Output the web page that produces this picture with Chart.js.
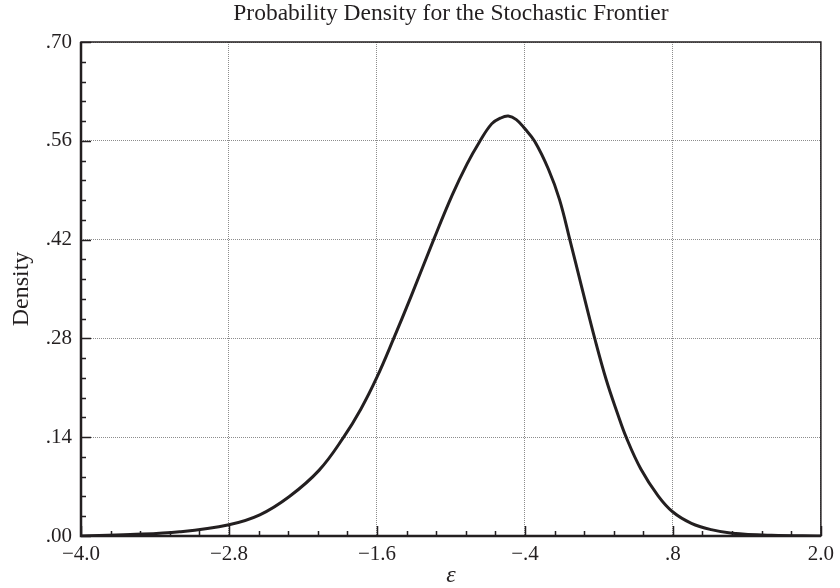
<!DOCTYPE html>
<html lang="en">
<head>
    <meta charset="UTF-8">
    <title>Probability Density for the Stochastic Frontier</title>
    <script src="https://cdn.jsdelivr.net/npm/chart.js"></script>
    <style>
        html, body { margin: 0; padding: 0; background: #fff; }
        #wrap { width: 840px; height: 588px; }
    </style>
</head>
<body>
    <div id="wrap"><canvas id="densityChart" width="840" height="588"></canvas></div>

    <script>
        // values
        const epsValues = [-4.0, -3.6, -3.2, -2.8, -2.55, -2.31, -2.07, -1.87, -1.73, -1.6,
                           -1.464, -1.32, -1.14, -0.99, -0.87, -0.77, -0.67, -0.6, -0.535, -0.47,
                           -0.40, -0.32, -0.21, -0.12, -0.036, 0.06, 0.166, 0.26, 0.35, 0.421,
                           0.54, 0.68, 0.80, 0.95, 1.11, 1.28, 1.6, 2.0];
        const densityValues = [0.000, 0.002, 0.006, 0.016, 0.030, 0.056, 0.093, 0.140, 0.180, 0.225,
                               0.280, 0.341, 0.420, 0.483, 0.527, 0.558, 0.584, 0.592, 0.595, 0.590,
                               0.577, 0.559, 0.520, 0.477, 0.420, 0.353, 0.280, 0.221, 0.174, 0.140,
                               0.095, 0.057, 0.034, 0.018, 0.009, 0.004, 0.001, 0.000];

        const xTickValues = [-4.0, -2.8, -1.6, -0.4, 0.8, 2.0];
        const xTickLabels = ['\u22124.0', '\u22122.8', '\u22121.6', '\u2212.4', '.8', '2.0'];
        const yTickValues = [0, 0.14, 0.28, 0.42, 0.56, 0.70];
        const yTickLabels = ['.00', '.14', '.28', '.42', '.56', '.70'];
        const xMinorStep = 0.24;
        const yMinorStep = 0.028;

        const ink = '#231f20';
        const serif = "'Liberation Serif', 'Times New Roman', serif";

        // frame + inward tick marks (major and minor)
        const frameTicks = {
            id: 'frameTicks',
            afterDatasetsDraw(chart) {
                const { ctx, chartArea: a, scales: { x, y } } = chart;
                ctx.save();
                ctx.strokeStyle = ink;
                ctx.lineWidth = 1.5;
                ctx.beginPath();
                for (let v = -4.0; v <= 2.0001; v += xMinorStep) {
                    const px = Math.round(x.getPixelForValue(v)) + 0.5;
                    const major = xTickValues.some(t => Math.abs(t - v) < 1e-6);
                    ctx.moveTo(px, a.bottom);
                    ctx.lineTo(px, a.bottom - (major ? 10 : 5));
                }
                for (let v = 0; v <= 0.7001; v += yMinorStep) {
                    const py = Math.round(y.getPixelForValue(v)) + 0.5;
                    const major = yTickValues.some(t => Math.abs(t - v) < 1e-6);
                    ctx.moveTo(a.left, py);
                    ctx.lineTo(a.left + (major ? 10 : 5), py);
                }
                ctx.stroke();

                ctx.lineWidth = 1.5;
                ctx.strokeRect(a.left, a.top, a.right - a.left, a.bottom - a.top);
                ctx.lineWidth = 2.5;
                ctx.beginPath();
                ctx.moveTo(a.left, a.top);
                ctx.lineTo(a.left, a.bottom);
                ctx.lineTo(a.right, a.bottom);
                ctx.stroke();
                ctx.restore();
            }
        };

        const ctx = document.getElementById('densityChart').getContext('2d');
        new Chart(ctx, {
            type: 'line',
            data: {
                datasets: [{
                    data: epsValues.map((e, i) => ({ x: e, y: densityValues[i] })),
                    borderColor: ink,
                    borderWidth: 3,
                    pointRadius: 0,
                    fill: false,
                    tension: 0.4
                }]
            },
            options: {
                responsive: false,
                animation: false,
                layout: { padding: { left: 0, right: 15, top: 0, bottom: 0 } },
                plugins: {
                    legend: { display: false },
                    tooltip: { enabled: false },
                    title: {
                        display: true,
                        fullSize: false,
                        text: 'Probability Density for the Stochastic Frontier',
                        color: ink,
                        font: { family: serif, size: 23.5, weight: 'normal', lineHeight: 1 },
                        padding: { top: 2, bottom: 16.5 }
                    }
                },
                scales: {
                    x: {
                        type: 'linear',
                        min: -4.0,
                        max: 2.0,
                        afterBuildTicks: s => { s.ticks = xTickValues.map(v => ({ value: v })); },
                        afterFit: s => { s.height = 52; },
                        ticks: {
                            autoSkip: false,
                            maxRotation: 0,
                            padding: 6,
                            color: ink,
                            font: { family: serif, size: 21 },
                            callback: (v, i) => xTickLabels[i]
                        },
                        grid: { color: '#8c8c8c', lineWidth: 1, drawTicks: false },
                        border: { display: false, dash: [1, 1] },
                        title: {
                            display: true,
                            text: '\u03b5',
                            color: ink,
                            font: { family: serif, size: 24, style: 'italic', lineHeight: 1 },
                            padding: { top: 0, bottom: 0 }
                        }
                    },
                    y: {
                        type: 'linear',
                        min: 0,
                        max: 0.7,
                        afterBuildTicks: s => { s.ticks = yTickValues.map(v => ({ value: v })); },
                        afterFit: s => { s.width = 81; },
                        ticks: {
                            autoSkip: false,
                            padding: 9,
                            color: ink,
                            font: { family: serif, size: 21 },
                            callback: (v, i) => yTickLabels[i]
                        },
                        grid: { color: '#8c8c8c', lineWidth: 1, drawTicks: false },
                        border: { display: false, dash: [1, 1] },
                        title: {
                            display: true,
                            text: 'Density',
                            color: ink,
                            font: { family: serif, size: 24, lineHeight: 1 },
                            padding: { top: 10, bottom: 0 }
                        }
                    }
                }
            },
            plugins: [frameTicks]
        });
    </script>
</body>
</html>
